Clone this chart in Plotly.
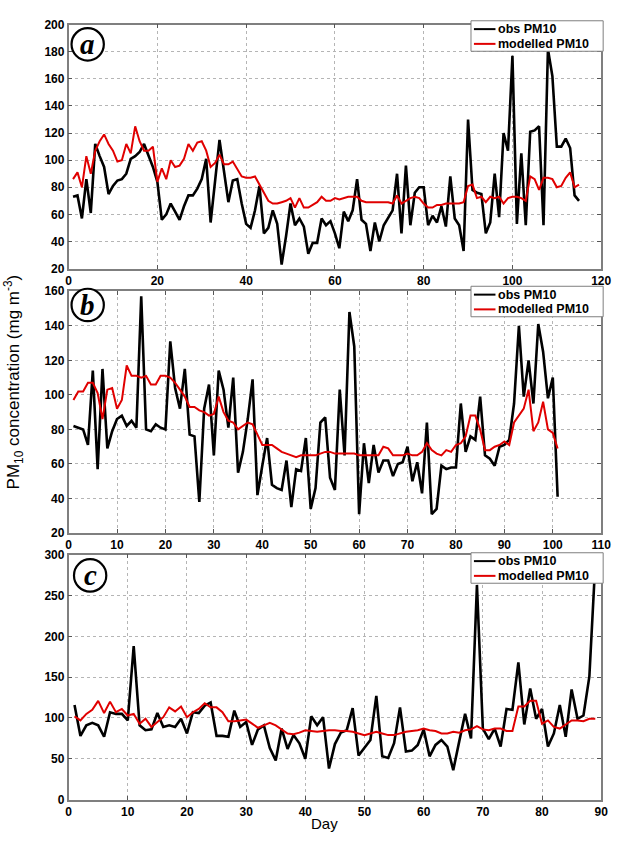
import plotly.graph_objects as go

# ---------------- data ----------------
days_a = list(range(1, 116))
obs_a = [73, 74, 57, 86, 61, 112, 103, 95, 75, 81, 85, 86, 90, 101, 103, 106, 112, 104, 95, 84,
         56, 60, 68, 62, 56, 66, 74, 74, 79, 86, 101, 54, 85, 115, 92, 69, 85, 86, 68, 53,
         50, 63, 81, 46, 50, 63, 53, 23, 44, 68, 52, 57, 51, 31, 39, 39, 57, 52, 55, 46,
         35, 62, 55, 63, 86, 56, 53, 33, 54, 40, 52, 57, 63, 90, 46, 96, 52, 76, 80, 80,
         52, 59, 54, 66, 51, 88, 57, 52, 33, 130, 78, 76, 75, 46, 54, 90, 58, 120, 107, 177,
         53, 105, 52, 121, 122, 125, 52, 182, 162, 110, 110, 116, 109, 74, 70]
mod_a = [86, 91, 80, 103, 90, 107, 114, 119, 112, 107, 99, 100, 112, 105, 125, 114, 107, 107, 110, 84,
         94, 86, 100, 95, 96, 101, 112, 107, 113, 114, 107, 95, 98, 104, 97, 97, 99, 93, 88, 87,
         87, 88, 82, 76, 70, 68, 68, 69, 70, 72, 65, 72, 65, 65, 67, 69, 73, 70, 70, 72,
         71, 72, 73, 73, 73, 70, 69, 69, 69, 69, 69, 69, 68, 74, 68, 70, 72, 73, 72, 68,
         65, 65, 67, 67, 68, 68, 68, 68, 69, 81, 82, 72, 73, 69, 73, 72, 73, 68, 72, 73,
         73, 72, 70, 88, 86, 78, 87, 87, 86, 80, 81, 87, 91, 80, 82]

days_b = list(range(1, 102))
obs_b = [82, 81, 80, 71, 114, 57, 115, 69, 79, 86, 88, 82, 85, 81, 157, 80, 79, 83, 81, 80,
         131, 104, 92, 115, 77, 76, 38, 92, 106, 65, 114, 103, 81, 110, 55, 67, 86, 109, 42, 59,
         75, 48, 46, 45, 62, 35, 57, 56, 75, 34, 46, 84, 87, 52, 45, 103, 65, 148, 128, 31,
         72, 49, 71, 55, 62, 62, 53, 60, 61, 70, 50, 61, 43, 84, 31, 34, 59, 57, 58, 58,
         95, 67, 76, 74, 99, 65, 63, 59, 70, 71, 74, 95, 140, 99, 120, 95, 141, 125, 98, 110,
         41]
mod_b = [97, 102, 102, 107, 107, 101, 86, 103, 104, 92, 97, 117, 111, 111, 110, 111, 106, 106, 111, 111,
         110, 107, 103, 99, 93, 93, 91, 90, 88, 89, 99, 90, 85, 84, 80, 82, 84, 83, 77, 71,
         71, 71, 69, 67, 66, 65, 64, 65, 65, 65, 65, 66, 67, 67, 66, 66, 66, 66, 66, 65,
         65, 65, 65, 65, 70, 69, 65, 65, 65, 66, 65, 65, 67, 72, 68, 66, 65, 68, 67, 71,
         72, 76, 88, 88, 80, 68, 68, 70, 71, 73, 71, 84, 88, 92, 103, 79, 84, 96, 80, 78,
         69]

days_c = list(range(1, 90))
obs_c = [116, 78, 91, 94, 91, 77, 107, 105, 105, 97, 188, 91, 85, 86, 106, 89, 91, 89, 99, 81,
         107, 106, 115, 119, 78, 78, 77, 109, 89, 95, 67, 86, 91, 63, 48, 87, 62, 79, 69, 50,
         102, 91, 101, 38, 68, 82, 85, 112, 54, 63, 73, 127, 53, 51, 69, 113, 59, 60, 67, 86,
         53, 67, 73, 65, 36, 71, 105, 75, 263, 87, 74, 87, 65, 111, 110, 168, 92, 136, 99, 111,
         65, 81, 116, 77, 135, 99, 103, 151, 290]
mod_c = [102, 97, 105, 110, 121, 106, 120, 107, 111, 103, 105, 93, 99, 89, 95, 101, 113, 108, 114, 101,
         107, 111, 118, 113, 113, 107, 96, 96, 97, 98, 93, 88, 91, 94, 91, 86, 81, 80, 82, 85,
         84, 83, 84, 85, 85, 84, 84, 83, 81, 79, 81, 83, 81, 79, 79, 81, 83, 84, 85, 87,
         85, 84, 81, 81, 83, 82, 85, 86, 90, 86, 85, 87, 87, 84, 84, 114, 114, 121, 121, 93,
         97, 89, 87, 92, 97, 97, 96, 99, 99]

panel_labels = ["a", "b", "c"]
series_names = ["obs PM10", "modelled PM10"]
series_colors = ["black", "#e00000"]

x_ticks_a = list(range(0, 121, 20))
x_ticks_b = list(range(0, 111, 10))
x_ticks_c = list(range(0, 91, 10))
y_ticks_a = list(range(20, 201, 20))
y_ticks_b = list(range(20, 161, 20))
y_ticks_c = list(range(0, 301, 50))

# ---------------- layout geometry (pixels) ----------------
W, H = 621, 841
def px(x):
    return x / W
def py(y):
    return 1 - y / H

x_dom = [px(67), px(611)]
dom_a = [py(266), py(18)]
dom_b = [py(535), py(289)]
dom_c = [py(806), py(557)]

fig = go.Figure()

panels = [
    ("", days_a, obs_a, mod_a),
    ("2", days_b, obs_b, mod_b),
    ("3", days_c, obs_c, mod_c),
]
for suffix, d, o, m in panels:
    fig.add_trace(go.Scatter(x=d, y=o, mode="lines", name=series_names[0],
                             line=dict(color=series_colors[0], width=2.6),
                             xaxis="x" + suffix, yaxis="y" + suffix, showlegend=False))
    fig.add_trace(go.Scatter(x=d, y=m, mode="lines", name=series_names[1],
                             line=dict(color=series_colors[1], width=2),
                             xaxis="x" + suffix, yaxis="y" + suffix, showlegend=False))

tickfont = dict(family="Liberation Sans, Arial", size=12, color="black", weight="bold")
common_axis = dict(showline=True, linecolor="#7f7f7f", linewidth=1.5, mirror="allticks",
                   ticks="inside", ticklen=4, tickcolor="#555", showgrid=True,
                   gridcolor="#b5b5b5", griddash="dot", gridwidth=1, zeroline=False,
                   tickfont=tickfont)

fig.update_layout(
    width=W, height=H, margin=dict(l=0, r=0, t=0, b=0),
    paper_bgcolor="white", plot_bgcolor="white",
    showlegend=False,
    xaxis=dict(common_axis, range=[0, 120], tickvals=x_ticks_a, domain=x_dom, anchor="y"),
    yaxis=dict(common_axis, range=[20, 200], tickvals=y_ticks_a, domain=dom_a, anchor="x"),
    xaxis2=dict(common_axis, range=[0, 110], tickvals=x_ticks_b, domain=x_dom, anchor="y2"),
    yaxis2=dict(common_axis, range=[20, 160], tickvals=y_ticks_b, domain=dom_b, anchor="x2"),
    xaxis3=dict(common_axis, range=[0, 90], tickvals=x_ticks_c, domain=x_dom, anchor="y3"),
    yaxis3=dict(common_axis, range=[0, 300], tickvals=y_ticks_c, domain=dom_c, anchor="x3"),
)

# legend boxes (one per panel), drawn as boxed keys
legend_tops = [14, 284, 555]
for top in legend_tops:
    fig.add_shape(type="rect", xref="paper", yref="paper",
                  x0=px(478), x1=px(613), y0=py(top + 31), y1=py(top),
                  line=dict(color="#7f7f7f", width=1), fillcolor="white")
    for i, (name, col) in enumerate(zip(series_names, series_colors)):
        yy = top + 8.5 + i * 15
        fig.add_shape(type="line", xref="paper", yref="paper",
                      x0=px(481), x1=px(503), y0=py(yy), y1=py(yy),
                      line=dict(color=col, width=2))
        fig.add_annotation(xref="paper", yref="paper", x=px(505), y=py(yy), text=name,
                           showarrow=False, xanchor="left", yanchor="middle", borderpad=0,
                           font=dict(family="Liberation Sans, Arial", size=12.5, color="black",
                                     weight="bold"))

# panel letters in circles
circles = [(86.5, 38), (86.5, 303), (89, 578)]
for lab, (cx, cy) in zip(panel_labels, circles):
    r = 16.5
    fig.add_shape(type="circle", xref="paper", yref="paper",
                  x0=px(cx - r), x1=px(cx + r), y0=py(cy + r), y1=py(cy - r),
                  line=dict(color="black", width=2.2), fillcolor="white")
    fig.add_annotation(xref="paper", yref="paper", x=px(cx), y=py(cy), text="<b><i>" + lab + "</i></b>",
                       showarrow=False, font=dict(family="Liberation Serif, Times New Roman", size=29,
                                                  color="black"),
                       xanchor="center", yanchor="middle")

fig.add_annotation(xref="paper", yref="paper", x=px(11), y=py(381),
                   text="PM<sub>10</sub> concentration (mg m<sup>-3</sup>)", textangle=-90,
                   showarrow=False, font=dict(family="Liberation Sans, Arial", size=17, color="black"),
                   xanchor="center", yanchor="middle")
fig.add_annotation(xref="paper", yref="paper", x=px(328), y=py(830), text="Day",
                   showarrow=False, font=dict(family="Liberation Sans, Arial", size=15, color="black"),
                   xanchor="center", yanchor="middle")

fig.write_html("out.html")
